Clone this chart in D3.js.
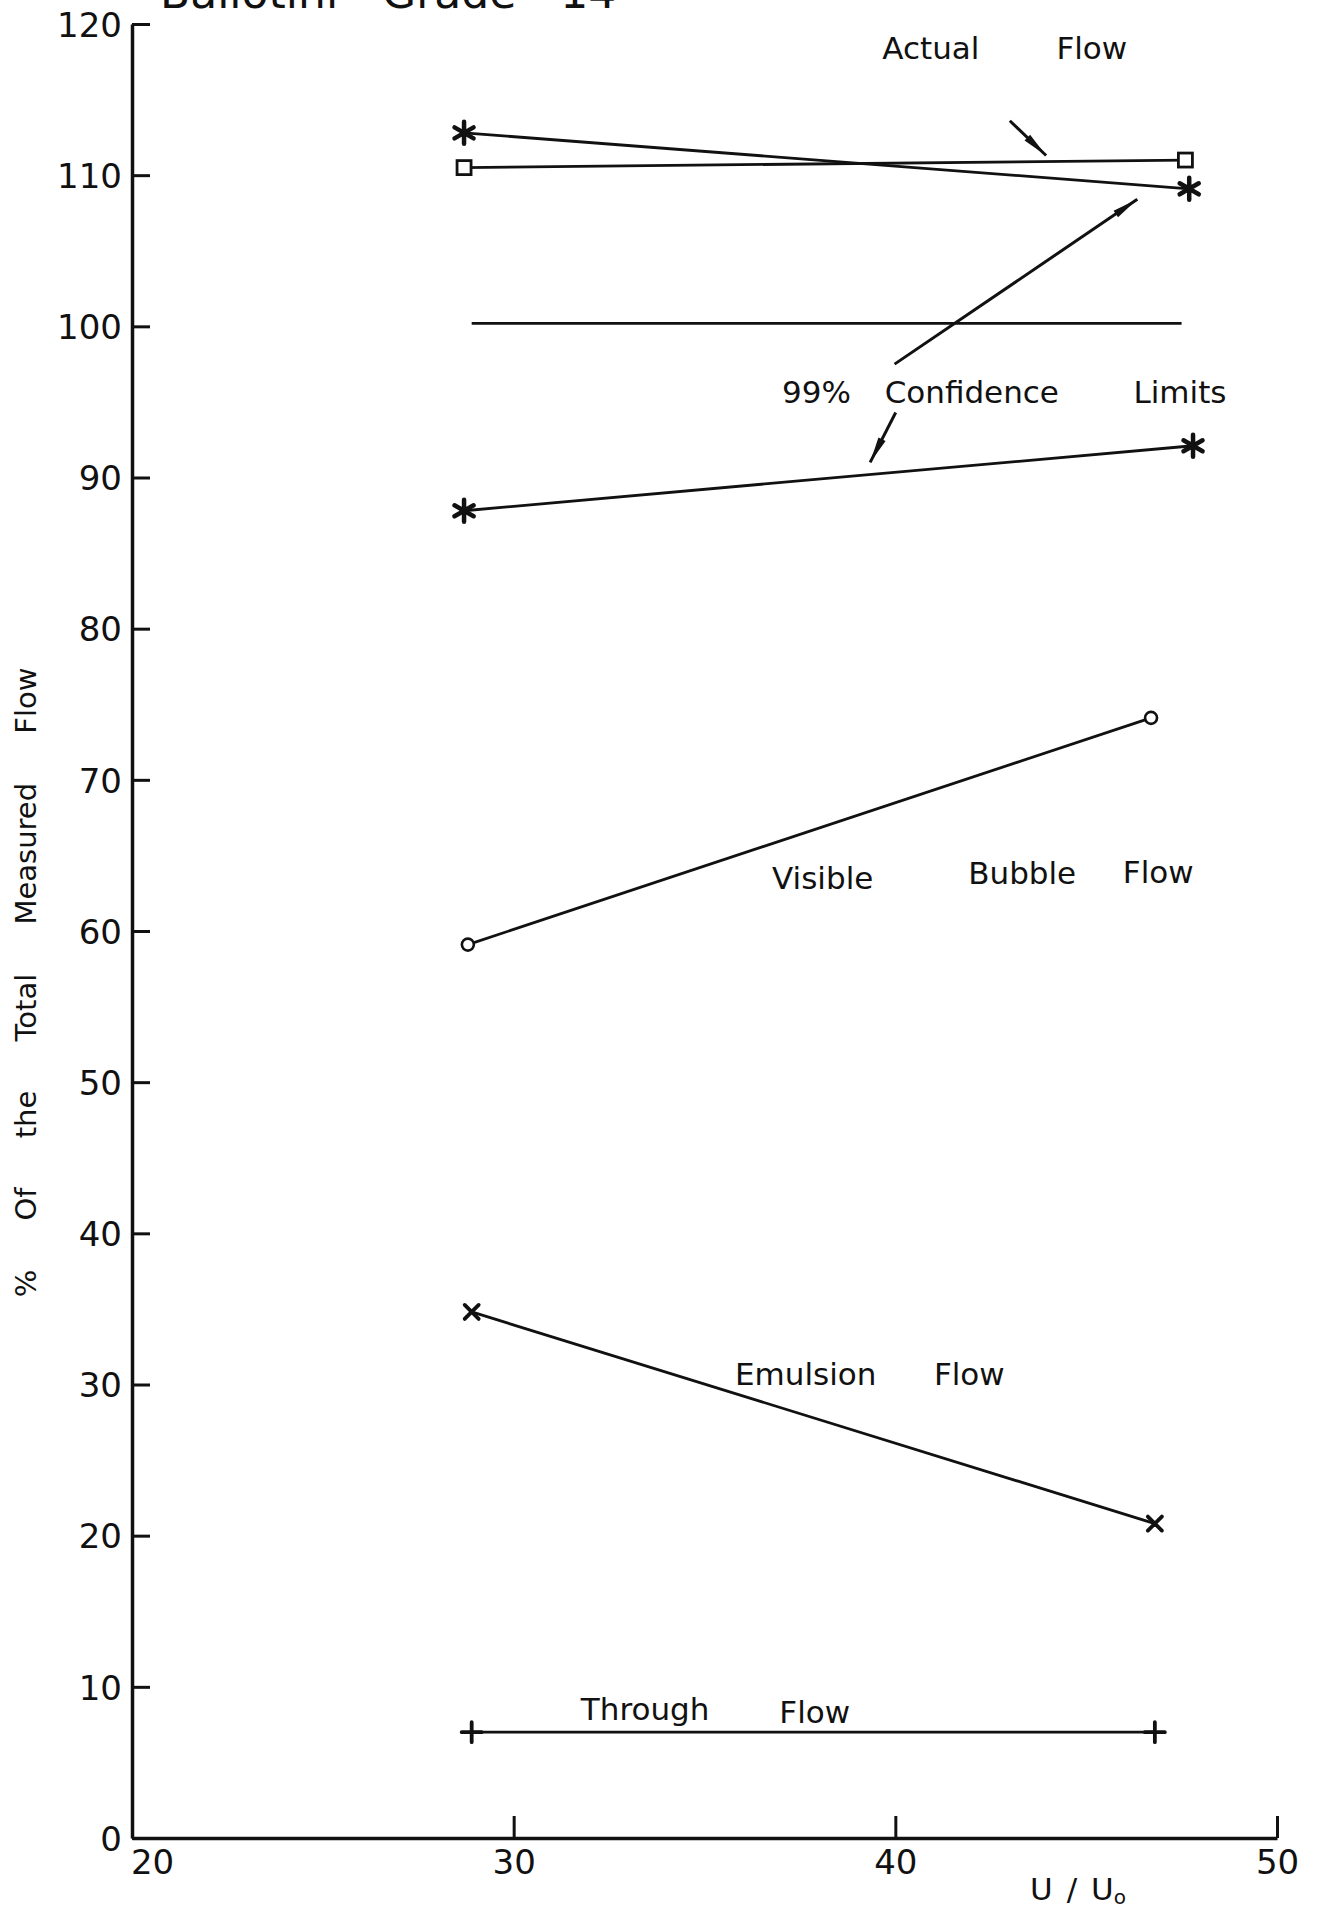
<!DOCTYPE html>
<html>
<head>
<meta charset="utf-8">
<script src="https://cdn.jsdelivr.net/npm/d3@7"></script>
<style>
  body { margin: 0; background: #fff; }
  svg text { font-family: "DejaVu Sans", sans-serif; fill: #111; }
</style>
</head>
<body>
<div id="chart"></div>
<script>
// values: [U/U0, % of total measured flow]
const actualFlow = [[28.7, 110.5], [47.6, 111.0]];
const upperLimit = [[28.7, 112.8], [47.7, 109.1]];
const lowerLimit = [[28.7, 87.8], [47.8, 92.1]];
const hundredLine = [[28.9, 100.2], [47.5, 100.2]];
const visibleBubble = [[28.8, 59.1], [46.7, 74.1]];
const emulsionFlow = [[28.9, 34.8], [46.8, 20.8]];
const throughFlow = [[28.9, 7.0], [46.8, 7.0]];

const xTicks = [20, 30, 40, 50];
const yTicks = [0, 10, 20, 30, 40, 50, 60, 70, 80, 90, 100, 110, 120];

// annotation words, anchored at their left baseline (data units)
const words = [
  { text: "Actual", u: 39.66, v: 117.7 },
  { text: "Flow", u: 44.22, v: 117.7 },
  { text: "99%", u: 37.03, v: 94.9 },
  { text: "Confidence", u: 39.72, v: 94.9 },
  { text: "Limits", u: 46.24, v: 94.9 },
  { text: "Visible", u: 36.77, v: 62.8 },
  { text: "Bubble", u: 41.91, v: 63.1 },
  { text: "Flow", u: 45.96, v: 63.2 },
  { text: "Emulsion", u: 35.80, v: 30.0 },
  { text: "Flow", u: 41.01, v: 30.0 },
  { text: "Through", u: 31.76, v: 7.8 },
  { text: "Flow", u: 36.96, v: 7.6 }
];

// pointer arrows [from, to]
const arrows = [
  [[43.0, 113.6], [43.95, 111.3]],
  [[39.98, 97.5], [46.34, 108.4]],
  [[40.01, 94.3], [39.34, 91.0]]
];

function flowChart() {
  const width = 1321, height = 1921;
  const margin = { top: 24, right: 44, bottom: 83, left: 132 };

  const x = d3.scaleLinear().domain([20, 50]).range([margin.left, width - margin.right]);
  const y = d3.scaleLinear().domain([0, 120]).range([height - margin.bottom, margin.top]);

  const svg = d3.select("#chart")
    .append("svg")
    .attr("width", width)
    .attr("height", height)
    .attr("viewBox", [0, 0, width, height].join(" "));

  // title, cut off by the top edge in the scan
  svg.append("text")
    .attr("x", 160)
    .attr("y", 8)
    .attr("font-size", 44)
    .style("word-spacing", "30px")
    .text("Ballotini Grade 14");

  // axes
  const yAxis = d3.axisLeft(y).tickValues(yTicks).tickSize(-18).tickSizeOuter(0).tickPadding(10);
  const xAxis = d3.axisBottom(x).tickValues(xTicks).tickSize(-22).tickSizeOuter(0).tickPadding(12);

  const gy = svg.append("g").attr("transform", `translate(${margin.left},0)`).call(yAxis);
  const gx = svg.append("g").attr("transform", `translate(0,${height - margin.bottom})`).call(xAxis);

  [gx, gy].forEach(g => {
    g.select(".domain").attr("stroke", "#111").attr("stroke-width", 3.5);
    g.selectAll(".tick line").attr("stroke", "#111").attr("stroke-width", 3);
    g.selectAll(".tick text")
      .attr("font-family", "DejaVu Sans, sans-serif")
      .attr("font-size", 34)
      .attr("fill", "#111");
  });
  gy.selectAll(".tick text").attr("dy", "0.36em");
  gx.selectAll(".tick text").filter(d => d === 20).attr("dx", 20);

  // axis titles
  svg.append("text")
    .attr("transform", `translate(36,${y(56.6)}) rotate(-90)`)
    .attr("text-anchor", "middle")
    .attr("font-size", 29)
    .style("word-spacing", "40px")
    .text("% Of the Total Measured Flow");

  const xt = svg.append("text")
    .attr("x", 1078)
    .attr("y", 1900)
    .attr("text-anchor", "middle")
    .attr("font-size", 31)
    .style("word-spacing", "4px");
  xt.append("tspan").text("U / U");
  xt.append("tspan").attr("font-size", 20).attr("dy", 4).text("o");

  // series lines
  const line = d3.line().x(d => x(d[0])).y(d => y(d[1]));
  const series = [
    { pts: actualFlow, mark: "square" },
    { pts: upperLimit, mark: "asterisk" },
    { pts: lowerLimit, mark: "asterisk" },
    { pts: hundredLine, mark: null },
    { pts: visibleBubble, mark: "circle" },
    { pts: emulsionFlow, mark: "times" },
    { pts: throughFlow, mark: "plus" }
  ];

  const lines = svg.append("g").attr("fill", "none").attr("stroke", "#111").attr("stroke-width", 2.8);
  lines.selectAll("path")
    .data(series)
    .enter()
    .append("path")
    .attr("d", d => line(d.pts));

  // marker shapes
  function markPath(kind) {
    const p = d3.path();
    if (kind === "asterisk") {
      const r = 11;
      [90, 30, 150].forEach(a => {
        const t = a * Math.PI / 180;
        p.moveTo(-r * Math.cos(t), -r * Math.sin(t));
        p.lineTo(r * Math.cos(t), r * Math.sin(t));
      });
    } else if (kind === "times") {
      const r = 7;
      p.moveTo(-r, -r); p.lineTo(r, r);
      p.moveTo(r, -r); p.lineTo(-r, r);
    } else if (kind === "plus") {
      const r = 10;
      p.moveTo(-r, 0); p.lineTo(r, 0);
      p.moveTo(0, -r); p.lineTo(0, r);
    }
    return p.toString();
  }

  const marks = svg.append("g");
  series.filter(s => s.mark).forEach(s => {
    const g = marks.append("g");
    const pts = g.selectAll("g").data(s.pts).enter().append("g")
      .attr("transform", d => `translate(${x(d[0])},${y(d[1])})`);
    if (s.mark === "square") {
      pts.append("rect")
        .attr("x", -7).attr("y", -7).attr("width", 14).attr("height", 14)
        .attr("fill", "#fff").attr("stroke", "#111").attr("stroke-width", 2.8);
    } else if (s.mark === "circle") {
      pts.append("circle")
        .attr("r", 6).attr("fill", "#fff").attr("stroke", "#111").attr("stroke-width", 2.6);
    } else {
      pts.append("path")
        .attr("d", markPath(s.mark))
        .attr("fill", "none").attr("stroke", "#111")
        .attr("stroke-width", s.mark === "asterisk" ? 4.5 : 3.8)
        .attr("stroke-linecap", "round");
    }
  });

  // pointer arrows with slender heads
  const ag = svg.append("g");
  arrows.forEach(([a, b]) => {
    const x1 = x(a[0]), y1 = y(a[1]), x2 = x(b[0]), y2 = y(b[1]);
    const ang = Math.atan2(y2 - y1, x2 - x1);
    const len = 26, half = 4;
    const bx = x2 - len * Math.cos(ang), by = y2 - len * Math.sin(ang);
    const nx = -Math.sin(ang) * half, ny = Math.cos(ang) * half;
    ag.append("line")
      .attr("x1", x1).attr("y1", y1).attr("x2", x2).attr("y2", y2)
      .attr("stroke", "#111").attr("stroke-width", 3);
    ag.append("path")
      .attr("d", `M${x2},${y2}L${bx + nx},${by + ny}L${bx - nx},${by - ny}Z`)
      .attr("fill", "#111");
  });

  // annotation words
  svg.append("g").selectAll("text")
    .data(words)
    .enter()
    .append("text")
    .attr("x", d => x(d.u))
    .attr("y", d => y(d.v))
    .attr("font-size", 31)
    .text(d => d.text);

  return svg;
}

flowChart();
</script>
</body>
</html>
